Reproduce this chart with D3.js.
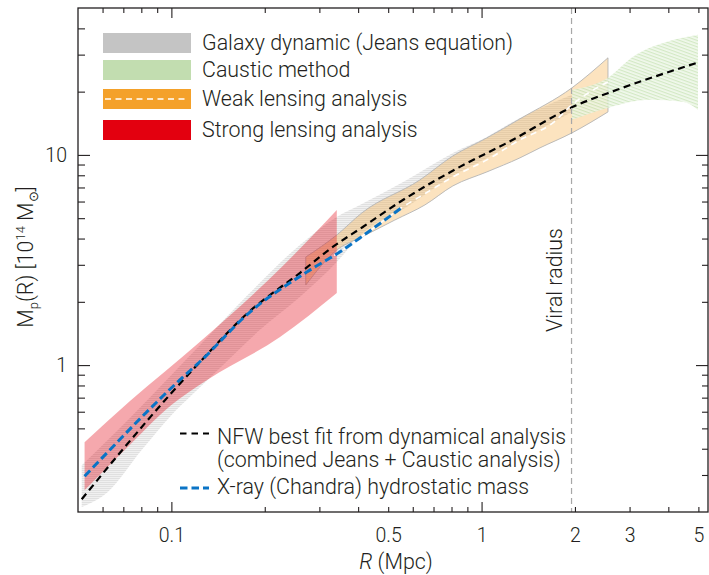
<!DOCTYPE html>
<html><head><meta charset="utf-8">
<script src="https://cdn.jsdelivr.net/npm/d3@7"></script>
<style>
body{margin:0;background:#fff;}
svg text{font-family:"Roboto","Liberation Sans",sans-serif;font-weight:300;fill:#231f20;}
</style></head><body>
<svg id="c" width="709" height="575"></svg>
<script>
// ---- data (R in Mpc, M in 10^14 Msun) ----
const nfwR = [0.0514, 0.0707, 0.1, 0.1252, 0.1762, 0.2594, 0.3314, 0.414, 0.545, 0.851, 1.207, 1.97, 2.732, 4.94];
const nfwM = [0.230, 0.407, 0.736, 1.056, 1.769, 2.742, 3.647, 4.54, 5.97, 8.77, 11.40, 16.93, 20.4, 27.4];

const xrayR = [0.0525, 0.0623, 0.0802, 0.1063, 0.1252, 0.1762, 0.2732, 0.349, 0.4266, 0.557];
const xrayM = [0.296, 0.385, 0.5655, 0.848, 1.056, 1.75, 2.773, 3.452, 4.253, 5.655];

const weakR = [0.2712, 0.349, 0.4266, 0.557, 0.6464, 0.8081, 1.040, 1.329, 1.698, 1.956, 2.556];
const weakM = [2.773, 3.452, 4.253, 5.655, 6.45, 7.86, 9.47, 11.79, 14.21, 17.3, 22.27];

const jeansUpR = [0.0514, 0.0734, 0.1, 0.130, 0.1762, 0.2594, 0.3414, 0.411, 0.574, 0.808, 1.040, 1.329, 1.508, 1.956];
const jeansUpM = [0.334, 0.559, 0.896, 1.345, 2.153, 3.727, 5.07, 5.84, 7.60, 10.22, 12.18, 15.0, 16.37, 19.31];
const jeansLoR = [0.0514, 0.0623, 0.0802, 0.1, 0.1164, 0.1432, 0.1927, 0.2594, 0.3414, 0.411, 0.574, 0.808, 1.040, 1.329, 1.956];
const jeansLoM = [0.211, 0.2484, 0.394, 0.578, 0.72, 0.967, 1.468, 2.108, 3.094, 4.205, 5.655, 7.94, 9.68, 11.79, 16.02];

const strongUpR = [0.0525, 0.0734, 0.1234, 0.2286, 0.3414];
const strongUpM = [0.430, 0.672, 1.287, 2.961, 5.47];
const strongLoR = [0.0525, 0.0707, 0.1, 0.130, 0.224, 0.3414];
const strongLoM = [0.254, 0.394, 0.645, 0.848, 1.359, 2.203];

const weakUpR = [0.2712, 0.3414, 0.411, 0.6324, 0.8081, 1.040, 1.329, 1.956, 2.556];
const weakUpM = [3.268, 4.16, 5.295, 7.60, 9.89, 12.05, 14.84, 20.85, 28.97];
const weakLoR = [0.2712, 0.3414, 0.411, 0.5253, 0.6565, 0.8081, 1.040, 1.329, 1.542, 1.956, 2.556];
const weakLoM = [2.404, 3.528, 4.07, 4.90, 5.78, 7.12, 8.30, 9.68, 10.8, 12.73, 16.02];

const causticUpR = [1.956, 2.556, 3.076, 3.960, 4.985];
const causticUpM = [20.4, 23.3, 29.3, 34.5, 37.3];
const causticLoR = [1.956, 2.556, 3.49, 4.46, 4.985];
const causticLoM = [14.68, 16.74, 18.28, 17.88, 16.37];

const virialR = 1.95;

const xTickLabels = [0.1, 0.5, 1, 2, 3, 5];
const xMajor = [0.1, 1];
const xMinor = [0.06,0.07,0.08,0.09,0.2,0.3,0.4,0.5,0.6,0.7,0.8,0.9,2,3,4,5];
const yTickLabels = [1, 10];
const yMinorLeft = [0.5,0.6,0.7,0.8,0.9,2,3,4,5,6,7,8,9,20,30,40];
const yMinorRight = [0.3,0.4,0.5,0.6,0.7,0.8,0.9,2,3,4,5,6,7,8,9,20,30,40];

const legendTop = ["Galaxy dynamic (Jeans equation)", "Caustic method", "Weak lensing analysis", "Strong lensing analysis"];
const legendColors = ["#c4c4c4", "#c2ddb0", "#f4a12a", "#e3000f"];

// ---- layout ----
const L=78, Rt=708, T=8, B=512;
const FS = '21.4px';
const x = d3.scaleLog().domain([0.05, 5.37]).range([L, Rt]);
const y = d3.scaleLog().domain([0.2, 50]).range([B, T]);
const svg = d3.select('#c');

const defs = svg.append('defs');
defs.append('clipPath').attr('id','clip')
  .append('rect').attr('x',L).attr('y',T).attr('width',Rt-L).attr('height',B-T);
const pg = defs.append('pattern').attr('id','hatchGray').attr('patternUnits','userSpaceOnUse')
  .attr('width',2).attr('height',2);
pg.append('rect').attr('width',2).attr('height',2).attr('fill','#efefef');
pg.append('rect').attr('width',2).attr('height',1).attr('fill','#dedede');
const pgr = defs.append('pattern').attr('id','hatchGreen').attr('patternUnits','userSpaceOnUse')
  .attr('width',3).attr('height',3).attr('patternTransform','rotate(20)');
pgr.append('rect').attr('width',3).attr('height',3).attr('fill','#eef7e8');
pgr.append('rect').attr('width',3).attr('height',1.2).attr('fill','#c8e3b6');

const plot = svg.append('g').attr('clip-path','url(#clip)');
const zip = (a,b)=>a.map((v,i)=>[v,b[i]]);
const smooth = d3.line().x(d=>x(d[0])).y(d=>y(d[1])).curve(d3.curveMonotoneX);
function band(uR,uM,lR,lM){
  const up = smooth(zip(uR,uM));
  const lo = smooth(zip(lR,lM).reverse());
  return up + 'L' + lo.slice(1) + 'Z';
}

// bands
plot.append('path').attr('d', band(jeansUpR,jeansUpM,jeansLoR,jeansLoM))
  .attr('fill','url(#hatchGray)').attr('fill-opacity',0.95);
plot.append('path').attr('d', band(weakUpR,weakUpM,weakLoR,weakLoM))
  .attr('fill','#f4a12a').attr('fill-opacity',0.3)
  .attr('stroke','#b4b4b4').attr('stroke-width',0.9);
plot.append('path').attr('d', band(causticUpR,causticUpM,causticLoR,causticLoM))
  .attr('fill','url(#hatchGreen)').attr('fill-opacity',0.8);
plot.append('path').attr('d', band(strongUpR,strongUpM,strongLoR,strongLoM))
  .attr('fill','#e3000f').attr('fill-opacity',0.34);

// lines
plot.append('path').attr('d', smooth(zip(weakR,weakM))).attr('fill','none')
  .attr('stroke','#fff').attr('stroke-width',1.6).attr('stroke-dasharray','6,5');
plot.append('path').attr('d', smooth(zip(nfwR,nfwM))).attr('fill','none')
  .attr('stroke','#000').attr('stroke-width',2.2).attr('stroke-dasharray','7,4.5');
plot.append('path').attr('d', smooth(zip(xrayR,xrayM))).attr('fill','none')
  .attr('stroke','#0a74c6').attr('stroke-width',3).attr('stroke-dasharray','8,4');

// virial radius
plot.append('line').attr('x1',x(virialR)).attr('x2',x(virialR)).attr('y1',T).attr('y2',B)
  .attr('stroke','#a8a8a8').attr('stroke-width',1.2).attr('stroke-dasharray','6,4');
svg.append('text').attr('transform',`translate(${x(virialR)-10},280) rotate(-90)`)
  .attr('text-anchor','middle').style('font-size',FS).text('Viral radius');

// axes
function styleAxis(g){ g.select('.domain').remove(); g.selectAll('line').attr('stroke','#231f20').attr('stroke-width',1.1); g.selectAll('text').style('font-size','19.5px').attr('fill','#231f20'); }
svg.append('g').attr('transform',`translate(0,${B})`)
  .call(d3.axisBottom(x).tickValues(xMajor).tickSize(-10).tickFormat(''))
  .call(styleAxis);
svg.append('g').attr('transform',`translate(0,${B})`)
  .call(d3.axisBottom(x).tickValues(xMinor).tickSize(-5).tickFormat(''))
  .call(styleAxis);
svg.append('g').attr('transform',`translate(0,${B})`)
  .call(d3.axisBottom(x).tickValues(xTickLabels).tickSize(0).tickPadding(16.5).tickFormat(d3.format('')))
  .call(styleAxis).call(g=>g.selectAll('line').remove());
svg.append('g').attr('transform',`translate(0,${T})`)
  .call(d3.axisTop(x).tickValues(xMajor).tickSize(-10).tickFormat('')).call(styleAxis);
svg.append('g').attr('transform',`translate(0,${T})`)
  .call(d3.axisTop(x).tickValues(xMinor).tickSize(-5).tickFormat('')).call(styleAxis);

svg.append('g').attr('transform',`translate(${L},0)`)
  .call(d3.axisLeft(y).tickValues(yTickLabels).tickSize(-12).tickPadding(11).tickFormat(d3.format('d')))
  .call(styleAxis);
svg.append('g').attr('transform',`translate(${L},0)`)
  .call(d3.axisLeft(y).tickValues(yMinorLeft).tickSize(-7).tickFormat('')).call(styleAxis);
svg.append('g').attr('transform',`translate(${Rt},0)`)
  .call(d3.axisRight(y).tickValues(yTickLabels).tickSize(-12).tickFormat('')).call(styleAxis);
svg.append('g').attr('transform',`translate(${Rt},0)`)
  .call(d3.axisRight(y).tickValues(yMinorRight).tickSize(-6).tickFormat('')).call(styleAxis);

svg.append('rect').attr('x',L).attr('y',T).attr('width',Rt-L).attr('height',B-T)
  .attr('fill','none').attr('stroke','#231f20').attr('stroke-width',1.3);

// axis titles
const xt = svg.append('text').attr('x',396).attr('y',569).attr('text-anchor','middle').style('font-size',FS);
xt.append('tspan').style('font-style','italic').text('R');
xt.append('tspan').text(' (Mpc)');

const yt = svg.append('text').attr('transform','translate(33,257) rotate(-90)').attr('text-anchor','middle').style('font-size',FS);
yt.append('tspan').text('M');
yt.append('tspan').attr('dy',5).style('font-size','13px').text('p');
yt.append('tspan').attr('dy',-5).text('(R) [10');
yt.append('tspan').attr('dy',-8).style('font-size','13px').text('14');
yt.append('tspan').attr('dy',8).text(' M');
yt.append('tspan').attr('dy',5).style('font-size','13px').text('\u2299');
yt.append('tspan').attr('dy',-5).text(']');

// top legend
const legY = [33, 60, 89, 120];
legendTop.forEach((t,i)=>{
  svg.append('rect').attr('x',103).attr('y',legY[i]).attr('width',88).attr('height',20).attr('fill',legendColors[i]);
  svg.append('text').attr('x',202).attr('y',legY[i]+16.5).style('font-size',FS).text(t);
});
svg.append('line').attr('x1',105).attr('x2',189).attr('y1',99).attr('y2',99)
  .attr('stroke','#fff').attr('stroke-width',1.5).attr('stroke-dasharray','6,4.5');

// bottom legend
svg.append('line').attr('x1',180).attr('x2',209).attr('y1',433.5).attr('y2',433.5)
  .attr('stroke','#000').attr('stroke-width',2).attr('stroke-dasharray','6.5,5');
svg.append('text').attr('x',217).attr('y',443.5).style('font-size',FS).text('NFW best fit from dynamical analysis');
svg.append('text').attr('x',217).attr('y',466.5).style('font-size',FS).text('(combined Jeans + Caustic analysis)');
svg.append('line').attr('x1',180).attr('x2',209).attr('y1',488).attr('y2',488)
  .attr('stroke','#0a74c6').attr('stroke-width',3).attr('stroke-dasharray','7.5,4');
svg.append('text').attr('x',217).attr('y',493.5).style('font-size',FS).text('X-ray (Chandra) hydrostatic mass');
</script>
</body></html>
